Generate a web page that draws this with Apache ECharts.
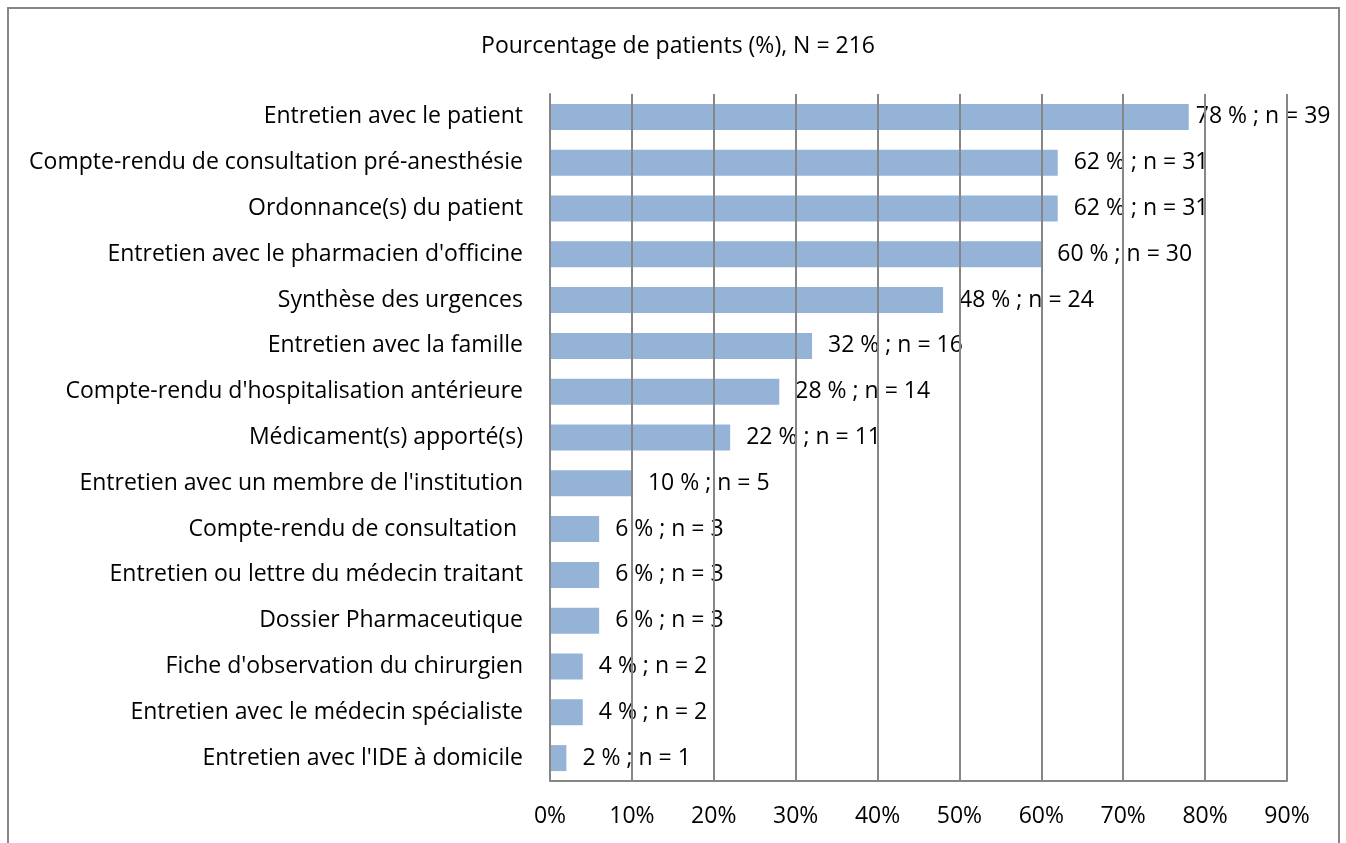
<!DOCTYPE html>
<html>
<head>
<meta charset="utf-8">
<script src="https://cdn.jsdelivr.net/npm/echarts@6/dist/echarts.min.js"></script>
<style>
  html, body { margin: 0; padding: 0; background: #fff; }
  #main { width: 1346px; height: 843px; }
</style>
</head>
<body>
<div id="main"></div>
<script>
const categories = [
  "Entretien avec le patient",
  "Compte-rendu de consultation pré-anesthésie",
  "Ordonnance(s) du patient",
  "Entretien avec le pharmacien d'officine",
  "Synthèse des urgences",
  "Entretien avec la famille",
  "Compte-rendu d'hospitalisation antérieure",
  "Médicament(s) apporté(s)",
  "Entretien avec un membre de l'institution",
  "Compte-rendu de consultation ",
  "Entretien ou lettre du médecin traitant",
  "Dossier Pharmaceutique",
  "Fiche d'observation du chirurgien",
  "Entretien avec le médecin spécialiste",
  "Entretien avec l'IDE à domicile"
];
const percents = [78, 62, 62, 60, 48, 32, 28, 22, 10, 6, 6, 6, 4, 4, 2];
const counts = [39, 31, 31, 30, 24, 16, 14, 11, 5, 3, 3, 3, 2, 2, 1];
const titleText = "Pourcentage de patients (%), N = 216";

const font = "'Open Sans', sans-serif";
const fs = 23;

let myChart = echarts.init(document.getElementById("main"));

// first label sits closer to its bar (keeps it inside the frame)
let barData = percents.map((v, i) => {
  let item = { value: v };
  if (i === 0) item.label = { distance: 7 };
  return item;
});

let option = {
  animation: false,
  textStyle: { fontFamily: font },
  title: {
    text: titleText,
    left: 673,
    top: 30,
    textAlign: "center",
    textStyle: { fontFamily: font, fontSize: fs, fontWeight: "normal", color: "#000" }
  },
  graphic: [
    {
      type: "rect",
      shape: { x: 8, y: 8, width: 1331, height: 900 },
      style: { fill: "none", stroke: "#868686", lineWidth: 2 },
      silent: true
    }
  ],
  grid: {
    left: 550,
    top: 94,
    width: 737,
    height: 687,
    containLabel: false
  },
  xAxis: {
    type: "value",
    min: 0,
    max: 90,
    interval: 10,
    z: 5,
    axisLine: { show: true, lineStyle: { color: "#868686", width: 2 } },
    axisTick: { show: false },
    splitLine: { show: true, lineStyle: { color: "#868686", width: 2 } },
    axisLabel: {
      formatter: "{value}%",
      fontFamily: font,
      fontSize: fs,
      color: "#000",
      margin: 24
    }
  },
  yAxis: {
    type: "category",
    data: categories,
    inverse: true,
    axisLine: { show: true, lineStyle: { color: "#868686", width: 2 } },
    axisTick: { show: false },
    axisLabel: {
      fontFamily: font,
      fontSize: fs,
      color: "#000",
      margin: 27
    }
  },
  series: [
    {
      type: "bar",
      data: barData,
      barWidth: 26,
      itemStyle: { color: "#95B3D7" },
      label: {
        show: true,
        position: "right",
        distance: 16,
        fontFamily: font,
        fontSize: fs,
        color: "#000",
        formatter: function (p) {
          return p.value + " % ; n = " + counts[p.dataIndex];
        }
      }
    }
  ]
};

myChart.setOption(option);
</script>
</body>
</html>
